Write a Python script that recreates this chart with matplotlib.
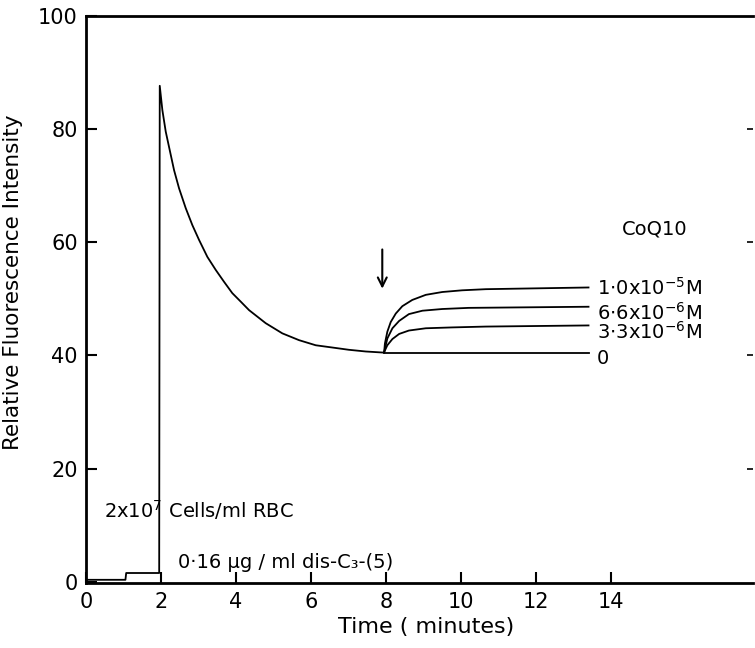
import matplotlib
matplotlib.use("Agg")
import matplotlib.pyplot as plt

# main trace: baseline, cell addition at 2 min, dye decay to 8 min
trace_t = [0, 1.05, 1.07, 1.95, 1.965, 2.035, 2.125, 2.213, 2.347, 2.48, 2.658,
           2.835, 3.013, 3.235, 3.458, 3.68, 3.9, 4.125, 4.347, 4.79, 5.235,
           5.68, 6.125, 6.57, 7.01, 7.46, 7.95]
trace_v = [0.4, 0.4, 1.6, 1.6, 87.6, 83.3, 79.5, 76.8, 72.7, 69.5, 66.0,
           63.0, 60.4, 57.4, 55.1, 53.0, 51.0, 49.5, 48.0, 45.7, 43.9,
           42.7, 41.8, 41.4, 41.0, 40.7, 40.5]

# responses after CoQ10 addition at 8 min
rise_t = {
    "1e-5": [7.95, 7.97, 8.035, 8.125, 8.26, 8.435, 8.7, 9.06, 9.5, 10.03, 10.66, 13.4],
    "6.6e-6": [7.95, 8.035, 8.17, 8.35, 8.61, 8.97, 9.5, 10.2, 13.4],
    "3.3e-6": [7.95, 8.035, 8.17, 8.35, 8.61, 9.06, 9.76, 10.66, 13.4],
    "0": [7.95, 13.4],
}
rise_v = {
    "1e-5": [40.6, 42.1, 44.2, 45.9, 47.4, 48.7, 49.8, 50.7, 51.2, 51.5, 51.7, 52.0],
    "6.6e-6": [40.6, 43.0, 44.8, 46.1, 47.3, 47.9, 48.2, 48.4, 48.6],
    "3.3e-6": [40.6, 41.8, 42.9, 43.8, 44.4, 44.8, 44.95, 45.1, 45.3],
    "0": [40.5, 40.5],
}
conc_labels = [r"1$\cdot$0x10$^{-5}$M", r"6$\cdot$6x10$^{-6}$M",
               r"3$\cdot$3x10$^{-6}$M", "0"]
conc_label_y = [51.9, 47.6, 44.1, 39.5]

xticks = [0, 2, 4, 6, 8, 10, 12, 14]
yticks = [0, 20, 40, 60, 80, 100]
right_ticks = [20, 40, 60, 80]

plt.rcParams['font.family'] = ['DejaVu Sans']
plt.rcParams['mathtext.fontset'] = 'dejavusans'

fig = plt.figure(figsize=(7.55, 6.48), dpi=100)
ax = fig.add_axes([0.114, 0.100, 0.884, 0.876])

lw = 1.3
ax.plot(trace_t, trace_v, color='black', lw=lw)
for key in rise_t:
    ax.plot(rise_t[key], rise_v[key], color='black', lw=lw)

for lab, y in zip(conc_labels, conc_label_y):
    ax.text(13.63, y, lab, fontsize=14, va='center', ha='left')
ax.text(14.3, 62.4, "CoQ10", fontsize=14, va='center', ha='left')

ax.text(0.48, 12.7, r"2x10$^{7}$ Cells/ml RBC", fontsize=14, va='center', ha='left')
ax.text(2.45, 3.5, "0·16 µg / ml dis-C₃-(5)", fontsize=14, va='center', ha='left')

ax.annotate("", xy=(7.9, 51.3), xytext=(7.9, 59.2),
            arrowprops=dict(arrowstyle='->', color='black', lw=1.5,
                            mutation_scale=16))

ax.set_xlim(0, 17.8)
ax.set_ylim(-0.2, 100)
ax.set_xticks(xticks)
ax.set_yticks(yticks)
ax.tick_params(direction='in', length=8, width=1.5, labelsize=15, pad=6)

for side in ['left', 'bottom', 'top']:
    ax.spines[side].set_linewidth(2)
ax.spines['right'].set_visible(False)

# faint tick marks left on the right edge
sec = ax.secondary_yaxis('right')
sec.set_yticks(right_ticks)
sec.tick_params(direction='in', length=4, width=1.2, labelright=False)
sec.spines['right'].set_visible(False)

ax.set_xlabel("Time ( minutes)", fontsize=16)
ax.xaxis.set_label_coords(0.51, -0.06)
ax.set_ylabel("Relative Fluorescence Intensity", fontsize=15.5)
ax.yaxis.set_label_coords(-0.095, 0.53)

fig.savefig("out.png", dpi=100)
